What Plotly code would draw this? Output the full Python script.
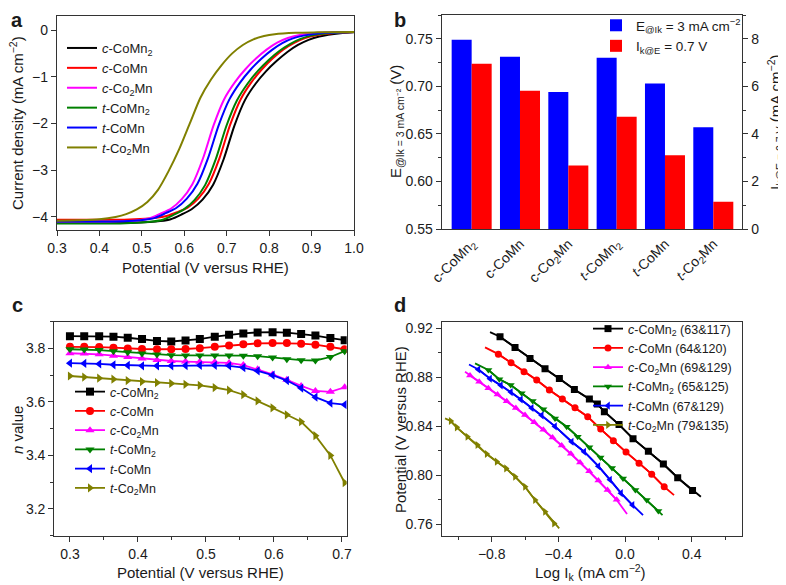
import plotly.graph_objects as go

# ---------------- data ----------------
names_i = ["<i>c</i>-CoMn<sub>2</sub>", "<i>c</i>-CoMn", "<i>c</i>-Co<sub>2</sub>Mn",
           "<i>t</i>-CoMn<sub>2</sub>", "<i>t</i>-CoMn", "<i>t</i>-Co<sub>2</sub>Mn"]
colors = ["#000000", "#ff0000", "#ff00ff", "#008000", "#0000ff", "#808000"]
symbols = ["square", "circle", "triangle-up", "triangle-down", "triangle-left", "triangle-right"]

# panel a: LSV curves (potential, current density)
a_cCoMn2_x = [0.30, 0.40, 0.468, 0.518, 0.543, 0.568, 0.593, 0.618, 0.643, 0.668, 0.693, 0.718, 0.743,
              0.768, 0.793, 0.818, 0.843, 0.868, 0.893, 0.918, 0.968, 1.00]
a_cCoMn2_y = [-4.13, -4.13, -4.13, -4.11, -4.09, -4.05, -3.95, -3.83, -3.63, -3.31, -2.76, -2.05, -1.50,
              -1.15, -0.88, -0.66, -0.47, -0.32, -0.21, -0.14, -0.07, -0.05]
a_cCoMn_x = [0.30, 0.40, 0.458, 0.508, 0.533, 0.558, 0.583, 0.608, 0.633, 0.658, 0.683, 0.708, 0.733,
             0.758, 0.783, 0.808, 0.833, 0.858, 0.883, 0.908, 0.958, 1.00]
a_cCoMn_y = [-4.06, -4.06, -4.06, -4.04, -4.02, -3.98, -3.90, -3.80, -3.61, -3.29, -2.74, -2.03, -1.48,
             -1.12, -0.84, -0.61, -0.42, -0.28, -0.18, -0.12, -0.06, -0.04]
a_cCo2Mn_x = [0.30, 0.40, 0.419, 0.469, 0.494, 0.519, 0.544, 0.569, 0.594, 0.619, 0.644, 0.669, 0.694,
              0.719, 0.744, 0.769, 0.794, 0.819, 0.844, 0.869, 0.919, 1.00]
a_cCo2Mn_y = [-4.11, -4.11, -4.11, -4.09, -4.07, -4.03, -3.93, -3.82, -3.62, -3.30, -2.75, -2.04, -1.48,
              -1.12, -0.84, -0.61, -0.42, -0.27, -0.17, -0.11, -0.06, -0.04]
a_tCoMn2_x = [0.30, 0.40, 0.449, 0.499, 0.524, 0.549, 0.574, 0.599, 0.624, 0.649, 0.674, 0.699, 0.724,
              0.749, 0.774, 0.799, 0.824, 0.849, 0.874, 0.899, 0.949, 1.00]
a_tCoMn2_y = [-4.14, -4.14, -4.14, -4.12, -4.10, -4.06, -3.96, -3.84, -3.64, -3.32, -2.77, -2.06, -1.51,
              -1.15, -0.87, -0.64, -0.45, -0.30, -0.19, -0.12, -0.06, -0.04]
a_tCoMn_x = [0.30, 0.40, 0.431, 0.481, 0.506, 0.531, 0.556, 0.581, 0.606, 0.631, 0.656, 0.681, 0.706,
             0.731, 0.756, 0.781, 0.806, 0.831, 0.856, 0.881, 0.931, 1.00]
a_tCoMn_y = [-4.10, -4.10, -4.10, -4.08, -4.06, -4.02, -3.92, -3.81, -3.61, -3.29, -2.74, -2.04, -1.49,
             -1.13, -0.85, -0.62, -0.43, -0.28, -0.18, -0.12, -0.06, -0.04]
a_tCo2Mn_x = [0.30, 0.35, 0.40, 0.438, 0.463, 0.488, 0.513, 0.538, 0.563, 0.588, 0.613, 0.638, 0.663,
              0.688, 0.713, 0.738, 0.763, 0.788, 0.813, 0.863, 0.913, 1.00]
a_tCo2Mn_y = [-4.08, -4.07, -4.05, -4.00, -3.94, -3.84, -3.68, -3.42, -3.02, -2.55, -2.00, -1.45, -1.06,
              -0.75, -0.50, -0.32, -0.20, -0.13, -0.09, -0.06, -0.05, -0.04]

# panel b: bars
b_cats = ["c-CoMn<sub>2</sub>", "c-CoMn", "c-Co<sub>2</sub>Mn",
          "<i>t</i>-CoMn<sub>2</sub>", "<i>t</i>-CoMn", "<i>t</i>-Co<sub>2</sub>Mn"]
b_E = [0.749, 0.731, 0.694, 0.730, 0.703, 0.657]
b_Ik = [6.95, 5.81, 2.67, 4.72, 3.10, 1.15]

# panel c: n values
c_x = [0.300, 0.321, 0.343, 0.364, 0.385, 0.406, 0.428, 0.449, 0.470, 0.491,
       0.513, 0.534, 0.555, 0.576, 0.598, 0.619, 0.640, 0.661, 0.683, 0.704]
c_cCoMn2 = [3.846, 3.846, 3.846, 3.844, 3.840, 3.835, 3.828, 3.826, 3.830, 3.835,
            3.844, 3.851, 3.856, 3.860, 3.861, 3.859, 3.854, 3.848, 3.839, 3.831]
c_cCoMn = [3.806, 3.806, 3.805, 3.803, 3.800, 3.798, 3.797, 3.797, 3.798, 3.801,
           3.806, 3.811, 3.816, 3.819, 3.820, 3.820, 3.818, 3.814, 3.806, 3.797]
c_cCo2Mn = [3.782, 3.781, 3.778, 3.773, 3.768, 3.762, 3.757, 3.753, 3.751, 3.750,
            3.749, 3.746, 3.738, 3.722, 3.703, 3.683, 3.660, 3.641, 3.638, 3.655]
c_tCoMn2 = [3.797, 3.796, 3.794, 3.790, 3.786, 3.781, 3.777, 3.775, 3.774, 3.774,
            3.774, 3.774, 3.773, 3.771, 3.766, 3.760, 3.756, 3.755, 3.768, 3.790]
c_tCoMn = [3.745, 3.744, 3.742, 3.739, 3.737, 3.735, 3.735, 3.735, 3.736, 3.737,
           3.737, 3.735, 3.728, 3.716, 3.700, 3.680, 3.652, 3.618, 3.596, 3.590]
c_tCo2Mn = [3.697, 3.693, 3.689, 3.685, 3.680, 3.676, 3.672, 3.669, 3.666, 3.662,
            3.654, 3.644, 3.627, 3.604, 3.578, 3.552, 3.526, 3.474, 3.400, 3.298]

# panel d: Tafel plots (points) and fit-line ends
d_labels = ["<i>c</i>-CoMn<sub>2</sub> (63&117)", "<i>c</i>-CoMn (64&120)",
            "<i>c</i>-Co<sub>2</sub>Mn (69&129)", "<i>t</i>-CoMn<sub>2</sub> (65&125)",
            "<i>t</i>-CoMn (67&129)", "<i>t</i>-Co<sub>2</sub>Mn (79&135)"]
d_cCoMn2_x = [-0.75, -0.66, -0.57, -0.48, -0.394, -0.304, -0.214, -0.166, -0.124, -0.036, 0.048, 0.14, 0.23, 0.316, 0.405]
d_cCoMn2_y = [0.9132, 0.9045, 0.8955, 0.8871, 0.8792, 0.8702, 0.8623, 0.8582, 0.852, 0.8415, 0.8300, 0.8197, 0.8093, 0.7981, 0.7876]
d_cCoMn_x = [-0.76, -0.684, -0.606, -0.53, -0.454, -0.376, -0.30, -0.224, -0.146, -0.07, 0.006, 0.084, 0.16, 0.235]
d_cCoMn_y = [0.899, 0.892, 0.8846, 0.8778, 0.8697, 0.8623, 0.8552, 0.8479, 0.8378, 0.8283, 0.8190, 0.8100, 0.8010, 0.7907]
d_cCo2Mn_x = [-0.93, -0.875, -0.82, -0.765, -0.71, -0.655, -0.60, -0.545, -0.49, -0.435, -0.38, -0.325, -0.27, -0.215, -0.16, -0.105, -0.05]
d_cCo2Mn_y = [0.8815, 0.8765, 0.8712, 0.8660, 0.8606, 0.8550, 0.8493, 0.8434, 0.8373, 0.8310, 0.8245, 0.8177, 0.8106, 0.8033, 0.7958, 0.7880, 0.7800]
d_tCoMn2_x = [-0.82, -0.754, -0.686, -0.62, -0.554, -0.49, -0.42, -0.35, -0.284, -0.214, -0.147, -0.078, -0.012, 0.062, 0.13, 0.20]
d_tCoMn2_y = [0.886, 0.8784, 0.8737, 0.867, 0.8607, 0.8539, 0.8465, 0.8397, 0.8316, 0.8229, 0.8145, 0.806, 0.7975, 0.788, 0.7798, 0.7709]
d_tCoMn_x = [-0.88, -0.81, -0.745, -0.685, -0.625, -0.56, -0.50, -0.42, -0.32, -0.245, -0.16, -0.09, -0.024, 0.045]
d_tCoMn_y = [0.8865, 0.879, 0.8735, 0.868, 0.862, 0.855, 0.849, 0.840, 0.8275, 0.8193, 0.8075, 0.7965, 0.7855, 0.7758]
d_tCo2Mn_x = [-1.046, -1.01, -0.946, -0.886, -0.83, -0.77, -0.714, -0.66, -0.60, -0.54, -0.48, -0.426]
d_tCo2Mn_y = [0.8444, 0.8392, 0.8316, 0.8248, 0.8174, 0.8112, 0.8057, 0.7989, 0.7907, 0.7799, 0.7703, 0.7608]
d_start_x = [-0.81, -0.84, -0.96, -0.90, -0.936, -1.08]
d_start_y = [0.917, 0.9045, 0.8846, 0.8915, 0.8906, 0.8465]
d_end_x = [0.455, 0.294, 0.012, 0.225, 0.108, -0.395]
d_end_y = [0.7825, 0.7839, 0.7684, 0.7676, 0.7676, 0.7567]

# ---------------- figure ----------------
# the page body adds an 8 px margin, so the figure is 778x577 and sits at (8, 8)
OFF = 8
W, H = 786 - OFF, 585 - OFF
FONT = "Arial, Liberation Sans, Helvetica, sans-serif"
TXT = "#1a1a1a"
AX = "#333333"


def px(x):
    return (x - OFF) / W


def py(y):
    return 1 - (y - OFF) / H


fig = go.Figure()

a_xs = [a_cCoMn2_x, a_cCoMn_x, a_cCo2Mn_x, a_tCoMn2_x, a_tCoMn_x, a_tCo2Mn_x]
a_ys = [a_cCoMn2_y, a_cCoMn_y, a_cCo2Mn_y, a_tCoMn2_y, a_tCoMn_y, a_tCo2Mn_y]
for i in range(6):
    fig.add_trace(go.Scatter(x=a_xs[i], y=a_ys[i], mode="lines", name=names_i[i],
                             line=dict(color=colors[i], width=2, shape="spline", smoothing=0.7),
                             xaxis="x", yaxis="y", legend="legend"))

fig.add_trace(go.Bar(x=b_cats, y=b_E, name="E<sub>@Ik</sub> = 3 mA cm<sup>−2</sup>",
                     marker=dict(color="#0000ff", line=dict(width=0)), offsetgroup="1",
                     xaxis="x2", yaxis="y2", legend="legend2"))
fig.add_trace(go.Bar(x=b_cats, y=b_Ik, name="I<sub>k@E</sub> = 0.7 V",
                     marker=dict(color="#ff0000", line=dict(width=0)), offsetgroup="2",
                     xaxis="x2", yaxis="y3", legend="legend2"))

c_series = [c_cCoMn2, c_cCoMn, c_cCo2Mn, c_tCoMn2, c_tCoMn, c_tCo2Mn]
for i, ys in enumerate(c_series):
    fig.add_trace(go.Scatter(x=c_x, y=ys, mode="lines+markers", name=names_i[i],
                             line=dict(color=colors[i], width=1.8),
                             marker=dict(symbol=symbols[i], size=8, color=colors[i]),
                             xaxis="x3", yaxis="y4", legend="legend3"))

d_xs = [d_cCoMn2_x, d_cCoMn_x, d_cCo2Mn_x, d_tCoMn2_x, d_tCoMn_x, d_tCo2Mn_x]
d_ys = [d_cCoMn2_y, d_cCoMn_y, d_cCo2Mn_y, d_tCoMn2_y, d_tCoMn_y, d_tCo2Mn_y]
for i in range(6):
    fx = [d_start_x[i]] + d_xs[i] + [d_end_x[i]]
    fy = [d_start_y[i]] + d_ys[i] + [d_end_y[i]]
    fig.add_trace(go.Scatter(x=fx, y=fy, mode="lines", showlegend=False,
                             line=dict(color=colors[i], width=1.8),
                             xaxis="x4", yaxis="y5", hoverinfo="skip"))
    fig.add_trace(go.Scatter(x=d_xs[i], y=d_ys[i], mode="lines+markers", name=d_labels[i],
                             line=dict(color=colors[i], width=1.8),
                             marker=dict(symbol=symbols[i], size=7, color=colors[i]),
                             xaxis="x4", yaxis="y5", legend="legend4"))


def dom(x0, x1, y0, y1):
    return [px(x0), px(x1)], [py(y1), py(y0)]


axbase = dict(showline=True, linecolor=AX, linewidth=1.3, mirror=True, ticks="outside",
              ticklen=5, tickwidth=1.2, tickcolor=AX, showgrid=False, zeroline=False,
              automargin=False, tickfont=dict(size=14, color=TXT, family=FONT))

ax_a, ay_a = dom(57, 354, 16, 230)
ax_b, ay_b = dom(441.7, 742.3, 15, 229)
ax_c, ay_c = dom(54.3, 346.7, 321.7, 535.7)
ax_d, ay_d = dom(441.7, 741.7, 322.3, 536)

minor = dict(ticks="outside", ticklen=3, tickwidth=1, tickcolor=AX)
leg = dict(xanchor="left", yanchor="top", bgcolor="rgba(0,0,0,0)", borderwidth=0)

fig.update_layout(
    template="none",
    width=W, height=H, margin=dict(l=0, r=0, t=0, b=0, pad=0),
    paper_bgcolor="white", plot_bgcolor="white",
    font=dict(family=FONT, color=TXT, size=14),
    barmode="group", bargap=0.172, bargroupgap=0,
    xaxis=dict(axbase, domain=ax_a, anchor="y", range=[0.3, 1.0], dtick=0.1, tickformat=".1f"),
    yaxis=dict(axbase, domain=ay_a, anchor="x", range=[-4.28, 0.3], dtick=1, tick0=0),
    xaxis2=dict(axbase, domain=ax_b, anchor="y2", range=[-0.62, 5.6], ticks="", tickangle=-45,
                type="category"),
    yaxis2=dict(axbase, domain=ay_b, anchor="x2", range=[0.55, 0.775], dtick=0.05, tick0=0.55,
                tickformat=".2f", mirror=False, minor=dict(minor, dtick=0.025)),
    yaxis3=dict(axbase, domain=ay_b, anchor="x2", overlaying="y2", side="right", range=[0, 9],
                dtick=2, tick0=0, mirror=False, minor=dict(minor, dtick=1)),
    xaxis3=dict(axbase, domain=ax_c, anchor="y4", range=[0.277, 0.707], dtick=0.1, tick0=0.3,
                tickformat=".1f", minor=dict(minor, dtick=0.05)),
    yaxis4=dict(axbase, domain=ay_c, anchor="x3", range=[3.1, 3.9], dtick=0.2, tick0=3.2,
                tickformat=".1f", minor=dict(minor, dtick=0.1)),
    xaxis4=dict(axbase, domain=ax_d, anchor="y5", range=[-1.1, 0.7], dtick=0.4, tick0=0,
                tickformat=".1f", minor=dict(minor, dtick=0.2)),
    yaxis5=dict(axbase, domain=ay_d, anchor="x4", range=[0.7505, 0.925], dtick=0.04, tick0=0.76,
                tickformat=".2f", minor=dict(minor, dtick=0.02)),
    legend=dict(leg, x=px(62), y=py(33), font=dict(size=13, color=TXT, family=FONT)),
    legend2=dict(leg, x=px(596), y=py(10), font=dict(size=13.5, color=TXT, family=FONT)),
    legend3=dict(leg, x=px(70), y=py(377), font=dict(size=12.5, color=TXT, family=FONT)),
    legend4=dict(leg, x=px(588), y=py(314), font=dict(size=12.5, color=TXT, family=FONT)),
)

ann = []
def txt(x, y, s, size=15, angle=0, bold=False, xa="center", ya="middle"):
    ann.append(dict(x=px(x), y=py(y), xref="paper", yref="paper", text=(f"<b>{s}</b>" if bold else s),
                    showarrow=False, textangle=angle, xanchor=xa, yanchor=ya,
                    font=dict(size=size, color=TXT, family=FONT)))

txt(17, 20, "a", size=20, bold=True)
txt(400, 20, "b", size=20, bold=True)
txt(17, 305, "c", size=20, bold=True)
txt(400, 305, "d", size=20, bold=True)
txt(205, 267, "Potential (V versus RHE)")
txt(17, 123, "Current density (mA cm<sup>−2</sup>)", angle=-90)
txt(396, 122, "E<sub>@Ik = 3 mA cm⁻²</sub> (V)", angle=-90)
txt(775, 122, "I<sub>k@E = 0.7 V</sub> (mA cm<sup>−2</sup>)", angle=-90)
txt(200, 572, "Potential (V versus RHE)")
txt(17, 430, "<i>n</i> value", angle=-90)
txt(590, 572, "Log I<sub>k</sub> (mA cm<sup>−2</sup>)")
txt(400, 430, "Potential (V versus RHE)", angle=-90)
fig.update_layout(annotations=ann)

fig.write_html("out.html")
